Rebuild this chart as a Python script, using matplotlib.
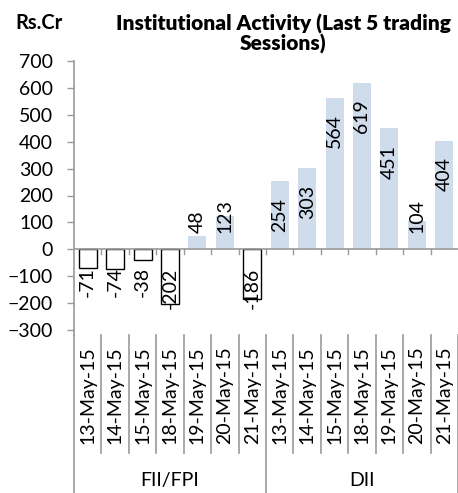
import matplotlib
matplotlib.use('Agg')
import matplotlib.pyplot as plt

# data
dates = ['13-May-15', '14-May-15', '15-May-15', '18-May-15',
         '19-May-15', '20-May-15', '21-May-15']
groups = ['FII/FPI', 'DII']
fii = [-71, -74, -38, -202, 48, 123, -186]
dii = [254, 303, 564, 619, 451, 104, 404]

values = fii + dii
labels = dates + dates
n = len(values)

plt.rcParams['font.family'] = ['Lato', 'DejaVu Sans']

W, H = 458, 493
fig = plt.figure(figsize=(W / 100, H / 100), dpi=100)
ax = fig.add_axes([74 / W, 1 - 330 / H, (W - 74) / W, (330 - 61) / H])

x = list(range(n))
colors = ['white' if v < 0 else '#cfdcec' for v in values]
edges = ['black' if v < 0 else 'none' for v in values]
ax.bar(x, values, width=0.66, color=colors, edgecolor=edges, linewidth=1.0, zorder=2)

# value labels, rotated like excel
for xi, v in zip(x, values):
    if v < 0:
        ax.annotate(str(v), (xi, 0), xytext=(0, -13), textcoords='offset points',
                    rotation=90, ha='center', va='top', fontsize=14)
    elif v > 250:
        ax.annotate(str(v), (xi, v), xytext=(0, -12), textcoords='offset points',
                    rotation=90, ha='center', va='top', fontsize=14)
    else:
        ax.annotate(str(v), (xi, 0), xytext=(0, 12), textcoords='offset points',
                    rotation=90, ha='center', va='bottom', fontsize=14)

ax.set_xlim(-0.5, n - 0.5)
ax.set_ylim(-300, 700)
ax.set_yticks(range(-300, 701, 100))
ax.tick_params(axis='y', length=5, width=1, color='#999999', pad=10, labelsize=14)
ax.set_xticks(x)
ax.set_xticklabels(labels, rotation=90, fontsize=14)
ax.tick_params(axis='x', length=0, pad=12)

for s in ['top', 'right', 'bottom']:
    ax.spines[s].set_visible(False)
ax.spines['left'].set_color('#999999')
ax.spines['left'].set_linewidth(1.2)
ax.spines['left'].set_bounds(-300, 700)

# zero line with tick marks
ax.axhline(0, color='#999999', lw=1.2, zorder=3)
for b in range(1, n):
    ax.plot([b - 0.5, b - 0.5], [0, -18], color='#999999', lw=1, zorder=3)

# category separators in label area
tr = ax.get_xaxis_transform()
for b in range(0, n + 1):
    bottom = -0.606 if b % len(dates) == 0 else -0.457
    ax.plot([b - 0.5, b - 0.5], [-0.019, bottom], color='#999999', lw=1.2,
            transform=tr, clip_on=False)
ax.plot([-0.5, -0.5], [0, -0.019], color='#999999', lw=1.2, transform=tr, clip_on=False)

for gi, g in enumerate(groups):
    ax.text(gi * len(dates) + (len(dates) - 1) / 2, -0.558, g, transform=tr,
            ha='center', va='center', fontsize=14)

fig.text(15 / W, 1 - 23 / H, 'Rs.Cr', fontsize=14.5, fontweight='bold', va='center')
fig.text(283 / W, 1 - 34 / H, 'Institutional Activity (Last 5 trading\nSessions)',
         fontsize=15, fontweight='heavy', ha='center', va='center', linespacing=1.0)

fig.savefig('out.png', dpi=100)
